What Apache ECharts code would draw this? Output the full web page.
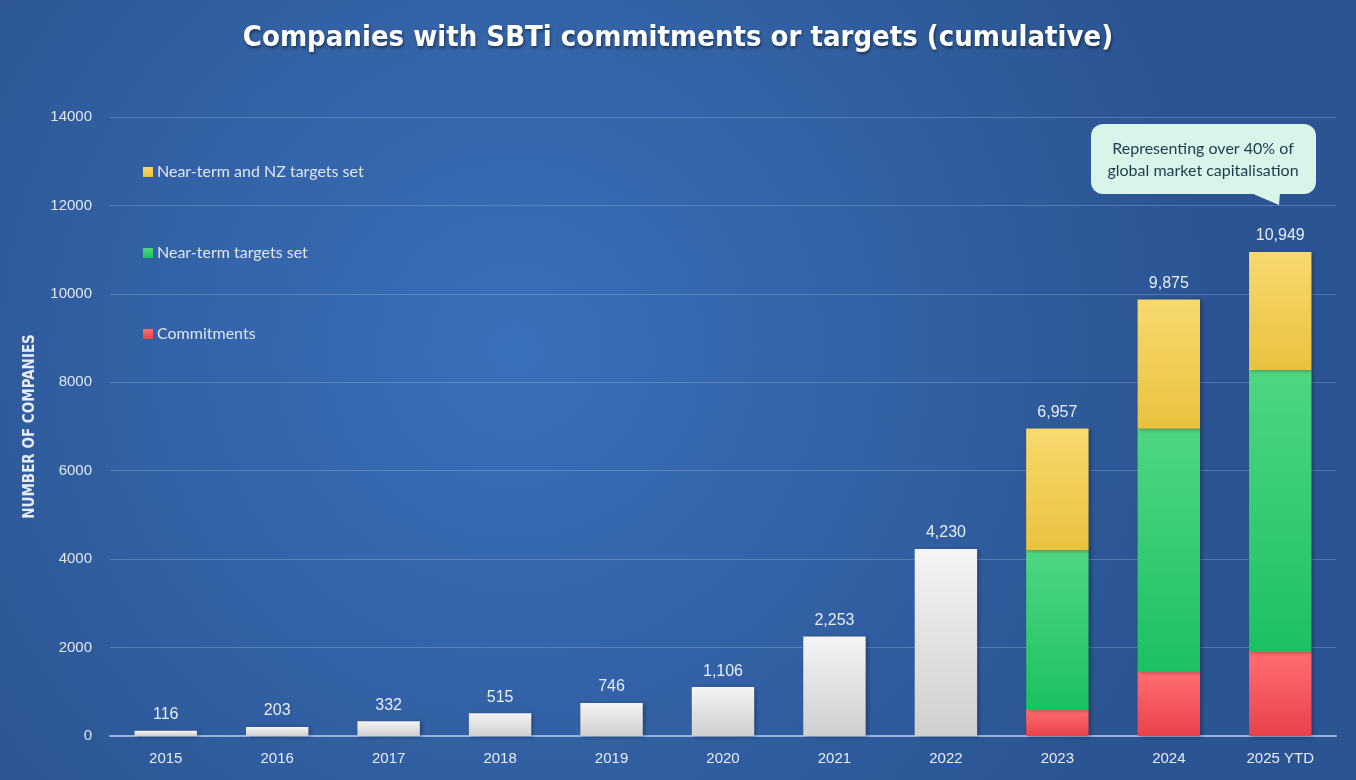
<!DOCTYPE html>
<html><head><meta charset="utf-8">
<script src="https://cdn.jsdelivr.net/npm/echarts@6/dist/echarts.min.js"></script>
<style>html,body{margin:0;padding:0;}#c{width:1356px;height:780px;}</style>
</head><body><div id="c"></div>
<script>
const categories = ['2015','2016','2017','2018','2019','2020','2021','2022','2023','2024','2025 YTD'];
const totals = [116, 203, 332, 515, 746, 1106, 2253, 4230, 6957, 9875, 10949];
const grayTotals = [116, 203, 332, 515, 746, 1106, 2253, 4230, null, null, null];
const commitments = [null, null, null, null, null, null, null, null, 590, 1450, 1900];
const nearTerm = [null, null, null, null, null, null, null, null, 3610, 5500, 6380];
const nearTermNZ = [null, null, null, null, null, null, null, null, 2757, 2925, 2669];
const yTicks = { min: 0, max: 14000, interval: 2000 };
const calloutLines = ['Representing over 40% of', 'global market capitalisation'];

const fmt = v => v.toLocaleString('en-US');
const vgrad = (a, b) => new echarts.graphic.LinearGradient(0, 0, 0, 1, [{offset: 0, color: a}, {offset: 1, color: b}]);
const barShadow = {shadowBlur: 4, shadowColor: 'rgba(0,0,0,0.3)', shadowOffsetX: 2, shadowOffsetY: 1};
const topLabel = {
  show: true, position: 'top', distance: 8, color: '#e6edf7', fontSize: 16,
  fontFamily: 'Liberation Sans, Arial, sans-serif',
  formatter: p => fmt(totals[p.dataIndex])
};

const chart = echarts.init(document.getElementById('c'));
chart.setOption({
  backgroundColor: new echarts.graphic.RadialGradient(0.38, 0.45, 0.9, [
    {offset: 0, color: '#3b70ba'}, {offset: 1, color: '#2b5492'}
  ]),
  animation: false,
  title: {
    text: 'Companies with SBTi commitments or targets (cumulative)',
    left: 'center', top: 19,
    textStyle: {
      color: '#ffffff', fontSize: 29, fontWeight: 'bold',
      fontFamily: 'DejaVu Sans Condensed, DejaVu Sans, sans-serif',
      textShadowColor: 'rgba(0,0,0,0.45)', textShadowBlur: 3, textShadowOffsetY: 2, textShadowOffsetX: 1
    }
  },
  legend: {
    data: ['Near-term and NZ targets set', 'Near-term targets set', 'Commitments'],
    orient: 'vertical', left: 138, top: 159, itemGap: 65,
    itemWidth: 10, itemHeight: 10, icon: 'rect',
    textStyle: {color: '#dfe6f1', fontSize: 16, fontFamily: 'Lato, Open Sans, sans-serif', padding: [0, 0, 0, -1]}
  },
  grid: {left: 110, right: 20, top: 117, bottom: 44},
  xAxis: {
    type: 'category', data: categories,
    axisLine: {lineStyle: {color: '#93b4dc', width: 2}},
    axisTick: {show: false},
    axisLabel: {color: '#e6edf7', fontSize: 15, margin: 15, fontFamily: 'Liberation Sans, Arial, sans-serif'}
  },
  yAxis: {
    type: 'value', min: yTicks.min, max: yTicks.max, interval: yTicks.interval,
    name: 'NUMBER OF COMPANIES', nameLocation: 'middle', nameRotate: 90, nameGap: 72,
    nameTextStyle: {color: '#e6edf7', fontSize: 15, fontWeight: 'bold', fontFamily: 'DejaVu Sans Condensed, sans-serif'},
    axisLine: {show: false}, axisTick: {show: false},
    axisLabel: {color: '#e0e7f2', fontSize: 15, margin: 18, fontFamily: 'Liberation Sans, Arial, sans-serif',
      formatter: v => String(v)},
    splitLine: {lineStyle: {color: 'rgba(150,185,230,0.35)', width: 1}}
  },
  series: [
    {name: 'Total', type: 'bar', stack: 's', barWidth: '56%', data: grayTotals,
     itemStyle: Object.assign({color: vgrad('#f4f4f4', '#cfcfcf')}, barShadow), label: topLabel},
    {name: 'Commitments', type: 'bar', stack: 's', data: commitments,
     itemStyle: Object.assign({color: vgrad('#ff6d6f', '#e8424a')}, barShadow)},
    {name: 'Near-term targets set', type: 'bar', stack: 's', data: nearTerm,
     itemStyle: Object.assign({color: vgrad('#4fd682', '#1bc160')}, barShadow)},
    {name: 'Near-term and NZ targets set', type: 'bar', stack: 's', data: nearTermNZ,
     itemStyle: Object.assign({color: vgrad('#f7d96e', '#e9c23e')}, barShadow), label: topLabel}
  ],
  graphic: [{
    type: 'group', left: 1091, top: 124,
    children: [
      {type: 'rect', shape: {x: 0, y: 0, width: 225, height: 70, r: 12}, style: {fill: '#d9f4e8'}},
      {type: 'polygon', shape: {points: [[160, 69], [189, 69], [188, 81]]}, style: {fill: '#d9f4e8'}},
      {type: 'text', style: {x: 112, y: 25, text: calloutLines[0], align: 'center', verticalAlign: 'middle',
        fill: '#1f3a4e', fontSize: 16, fontFamily: 'Lato, Open Sans, sans-serif'}},
      {type: 'text', style: {x: 112, y: 47, text: calloutLines[1], align: 'center', verticalAlign: 'middle',
        fill: '#1f3a4e', fontSize: 16, fontFamily: 'Lato, Open Sans, sans-serif'}}
    ]
  }]
});
</script></body></html>
